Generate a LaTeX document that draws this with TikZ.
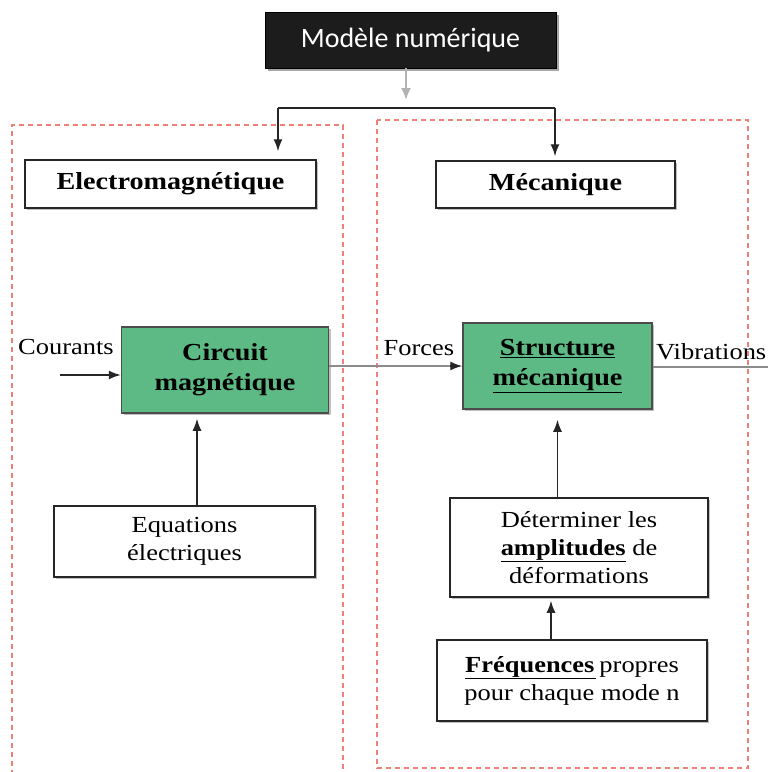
\documentclass[tikz,border=0pt]{standalone}
\usepackage{fontspec}
\setmainfont[FakeStretch=1.15]{Liberation Serif}
\newfontfamily\calib{Carlito}
\usetikzlibrary{arrows.meta,shadows}
\definecolor{boxgreen}{RGB}{94,186,132}
\definecolor{dashred}{RGB}{238,128,118}
\definecolor{darkbox}{RGB}{28,28,28}
\begin{document}
\begin{tikzpicture}[x=1pt,y=-1pt,
  box/.style={draw=black!85, line width=1.5pt, fill=white, inner sep=0pt, align=center,
    drop shadow={shadow xshift=2pt,shadow yshift=-2pt,opacity=0.25,fill=black}},
  greenbox/.style={box, fill=boxgreen, draw=black!70},
  reg/.style={font=\fontsize{23}{28}\selectfont},
  bld/.style={font=\fontsize{24.5}{30}\selectfont\bfseries},
  arr/.style={line width=1.4pt, draw=black!85, -{Latex[length=12pt,width=9pt]}},
  dashbox/.style={draw=dashred, line width=1.2pt, dash pattern=on 5pt off 4pt},
  lbl/.style={reg, inner sep=0pt}
]
\useasboundingbox[fill=white] (0,0) rectangle (768,772);

% dashed regions
\draw[dashbox] (12,775) -- (12,125) -- (343,125) -- (343,775);
\draw[dashbox] (377,120) rectangle (748,768);

% top node
\node[fill=darkbox, draw=black, text=white, minimum width=291pt, minimum height=56pt, inner sep=0pt,
  font=\calib\fontsize{28}{34}\selectfont,
  drop shadow={shadow xshift=3pt,shadow yshift=-3pt,opacity=0.35,fill=black}] (mod) at (410.5,40) {Modèle numérique};

% headers
\node[box, bld, minimum width=291pt, minimum height=48pt] (elec) at (170.5,184) {Electromagnétique};
\node[box, bld, minimum width=239pt, minimum height=47pt] (meca) at (555.5,184.5) {Mécanique};

% green blocks
\node[greenbox, bld, minimum width=207pt, minimum height=86pt] (circ) at (225,370) {Circuit\\magnétique};
\node[greenbox, bld, minimum width=189pt, minimum height=86pt] (struct) at (557.5,366) {\underline{Structure}\\\underline{mécanique}};

% lower boxes
\node[box, reg, minimum width=261pt, minimum height=71pt] (eq) at (184.5,541.5) {Equations\\électriques};
\node[box, reg, minimum width=258pt, minimum height=99pt] (det) at (579,547.5) {Déterminer les\\\underline{\textbf{amplitudes}} de\\déformations};
\node[box, reg, minimum width=270pt, minimum height=81pt] (freq) at (572,680.5) {\underline{\textbf{Fréquences}\kern2pt}\kern3pt propres\\pour chaque mode n};

% labels
\node[lbl] (cour) at (66,347) {Courants};
\node[lbl] (forc) at (419,348) {Forces};
\node[lbl, anchor=west] (vib) at (656,352) {Vibrations};

% connectors from top
\coordinate (j) at (406,100);
\coordinate (hl) at (278,108);
\coordinate (hr) at (555,108);
\draw[line width=2pt, draw=black!30, -{Latex[length=12pt,width=10pt]}] (mod.south -| j) -- (j);
\draw[line width=1.4pt, draw=black!85] (hl) -- (hr);
\draw[arr, shorten >=8pt] (hl) -- (hl |- elec.north);
\draw[arr, shorten >=4pt] (hr) -- (hr |- meca.north);

% horizontal flow
\coordinate (cin) at (60,375);
\draw[arr] (cin) -- (cin -| circ.west);
\draw[line width=1.3pt, draw=black!45] (struct.west -| circ.east) -- ([xshift=-10pt]struct.west);
\draw[arr, draw=black!85] ([xshift=-12pt]struct.west) -- (struct.west);
\coordinate (vout) at (768,367);
\draw[line width=1.3pt, draw=black!45] (vout -| struct.east) -- (vout);

% vertical flows
\coordinate (eqx) at (197,0);
\draw[arr, shorten >=5pt] (eqx |- eq.north) -- (eqx |- circ.south);
\draw[arr, shorten >=10pt] (struct.south |- det.north) -- (struct.south);
\coordinate (fx) at (551,0);
\draw[arr, shorten >=3pt] (fx |- freq.north) -- (fx |- det.south);
\end{tikzpicture}
\end{document}
